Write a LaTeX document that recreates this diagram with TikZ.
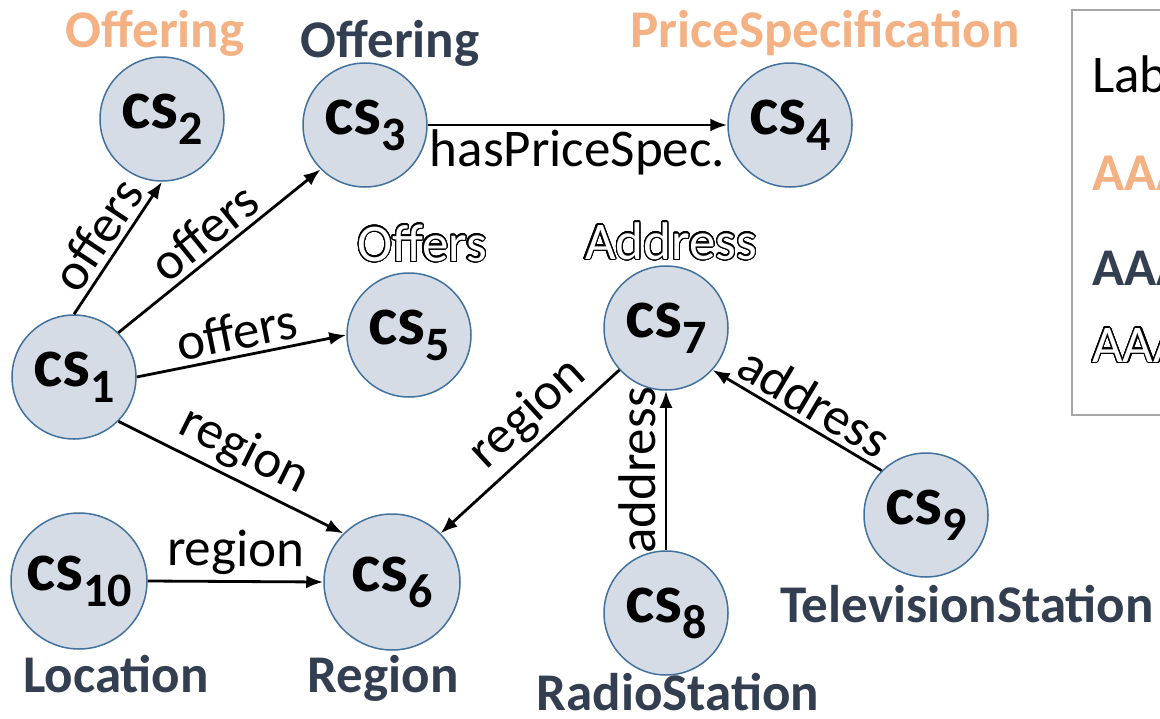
\documentclass[tikz,border=0pt]{standalone}
\usepackage{fontspec}
\setmainfont{Carlito}
\usepackage{contour}
\usetikzlibrary{arrows.meta}

\definecolor{peach}{HTML}{F4B183}
\definecolor{slate}{HTML}{333F50}
\definecolor{nodefill}{HTML}{D6DCE5}
\definecolor{nodeline}{HTML}{41719C}
\definecolor{framegray}{HTML}{A6A6A6}

\contourlength{1.2pt}
\contournumber{32}

% entity name: bold "cs" with a lowered index
\newcommand\cslab[1]{\fontsize{70}{70}\selectfont\bfseries cs\raisebox{-16pt}{\fontsize{48}{48}\selectfont #1}}
% hollow (outlined) lettering
\newcommand\hollow[1]{\contour{black}{\textcolor{white}{#1}}}

\tikzset{
  ent/.style={circle, draw=nodeline, fill=nodefill, line width=1.5pt,
    minimum size=124pt, inner sep=0pt},
  bigent/.style={ent, minimum size=136pt},
  rel/.style={-{Latex[length=17pt,width=13pt]}, line width=2.8pt},
  rellab/.style={font=\fontsize{53}{53}\selectfont, sloped, above, inner sep=5pt},
  cls/.style={font=\fontsize{53}{53}\selectfont\bfseries, text=slate, anchor=base, inner sep=0pt},
  clsnew/.style={cls, text=peach},
  clsout/.style={font=\fontsize{53}{53}\selectfont, anchor=base, inner sep=0pt},
  legtext/.style={font=\fontsize{53}{53}\selectfont, anchor=base west, inner sep=0pt},
}

\begin{document}
\begin{tikzpicture}[x=1pt, y=-1pt]
  \clip (0,0) rectangle (1160,718);
  \fill[white] (0,0) rectangle (1160,718);

  % entities
  \node[ent]    (cs1)  at (74,377)  {\cslab{1}};
  \node[ent]    (cs2)  at (162,119) {\cslab{2}};
  \node[ent]    (cs3)  at (365,125) {\cslab{3}};
  \node[ent]    (cs4)  at (790,125) {\cslab{4}};
  \node[ent]    (cs5)  at (409,335) {\cslab{5}};
  \node[bigent] (cs6)  at (392,582) {\cslab{6}};
  \node[ent]    (cs7)  at (666,328) {\cslab{7}};
  \node[ent]    (cs8)  at (666,613) {\cslab{8}};
  \node[ent]    (cs9)  at (926,515) {\cslab{9}};
  \node[bigent] (cs10) at (79,581)  {\cslab{10}};

  % class labels
  \node[clsnew] (c2)  at (155,47)  {Offering};
  \node[cls]    (c3)  at (390,57)  {Offering};
  \node[clsnew] (c4)  at (825,47)  {PriceSpecification};
  \node[clsout] (c5)  at (422,261) {\hollow{Offers}};
  \node[clsout] (c7)  at (671,259) {\hollow{Address}};
  \node[cls]    (c10) at (116,692) {Location};
  \node[cls]    (c6)  at (383,692) {Region};
  \node[cls]    (c8)  at (678,710) {RadioStation};
  \node[cls]    (c9)  at (967,622) {TelevisionStation};

  % relations
  \draw[rel] (cs1.north) -- node[rellab] {offers} (cs2.south);
  \draw[rel] (cs1.45) -- node[rellab] {offers} (cs3.225);
  \draw[rel] (cs1.east) -- node[rellab] {offers} (cs5.west);
  \draw[rel] (cs1.-45) -- node[rellab] {region} (cs6.135);
  \draw[rel] (cs10.east) -- node[rellab] {region} (cs6.west);
  \draw[rel] (cs3.east) -- node[rellab, below, inner sep=3pt] {hasPriceSpec.} (cs4.west);
  \draw[rel] (cs7.222) -- node[rellab, pos=0.4] {region} (cs6.45);
  \draw[rel] (cs8.north) -- node[rellab, inner sep=9pt] {address} (cs7.south);
  \draw[rel] (cs9.135) -- node[rellab, pos=0.47] {address} (cs7.-42);

  % legend
  \draw[framegray, line width=1.5pt] (1072,10) rectangle (1220,415);
  \node[legtext] (l1) at (1092,92)  {Label};
  \node[legtext, font=\fontsize{53}{53}\selectfont\bfseries, text=peach] (l2) at (1092,190) {AAA};
  \node[legtext, font=\fontsize{53}{53}\selectfont\bfseries, text=slate] (l3) at (1092,285) {AAA};
  \node[legtext] (l4) at (1092,362) {\hollow{AAA}};
\end{tikzpicture}
\end{document}
